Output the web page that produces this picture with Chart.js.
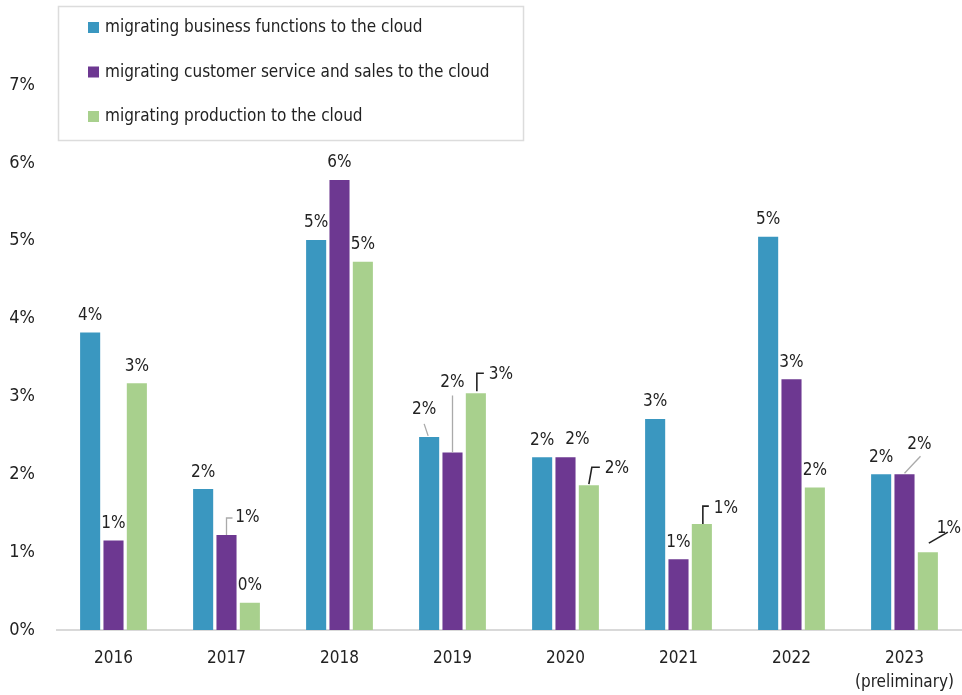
<!DOCTYPE html>
<html>
<head>
<meta charset="utf-8">
<script src="https://cdn.jsdelivr.net/npm/chart.js@4/dist/chart.umd.min.js"></script>
<style>
  html, body { margin: 0; padding: 0; background: #fff; }
  #wrap { width: 962px; height: 695px; position: relative; }
</style>
</head>
<body>
<div id="wrap"><canvas id="cloudChart"></canvas></div>
<script>
// categories + series (values in %)
const years = ['2016', '2017', '2018', '2019', '2020', '2021', '2022', ['2023', '(preliminary)']];
const businessFunctions = [3.82, 1.81, 5.01, 2.48, 2.22, 2.71, 5.05, 2.0];
const customerSales = [1.15, 1.22, 5.78, 2.28, 2.22, 0.91, 3.22, 2.0];
const production = [3.17, 0.35, 4.73, 3.04, 1.86, 1.36, 1.83, 1.0];
const seriesNames = [
    'migrating business functions to the cloud',
    'migrating customer service and sales to the cloud',
    'migrating production to the cloud'
];
const yTicks = [0, 1, 2, 3, 4, 5, 6, 7];

const FONT = '"Liberation Sans Narrow", "DejaVu Sans Condensed", "Roboto", sans-serif';
const colors = ['#3a97c0', '#6d3891', '#a8d08d'];

// label placement tweaks (dataset index, category index) -> offset + leader line
const labelTweaks = {
    '1-1': { dx: 21, dy: -17, leader: [[0, 0], [0, -17], [6, -17]], lc: '#aaa' },
    '0-3': { dx: -5, dy: -27, leader: [[-1, -1], [-5, -13]], lc: '#aaa' },
    '1-3': { dx: 0, dy: -70, leader: [[0, 0], [0, -57]], lc: '#aaa' },
    '2-3': { dx: 25, dy: -19, leader: [[1, -2], [1, -20], [8, -20]], lc: '#222' },
    '1-4': { dx: 12, dy: -18 },
    '2-4': { dx: 28, dy: -17, leader: [[0, -1], [3, -18], [11, -18]], lc: '#222' },
    '2-5': { dx: 24, dy: -16, leader: [[1, 0], [1, -18], [7, -18]], lc: '#222' },
    '1-7': { dx: 15, dy: -30, leader: [[0, -1], [16, -18]], lc: '#aaa' },
    '2-7': { dx: 21, dy: -24, leader: [[1, -9], [20, -20]], lc: '#222' }
};

// value labels above bars
const barLabels = {
    id: 'barLabels',
    afterDatasetsDraw(chart) {
        const c = chart.ctx;
        c.save();
        c.font = '17px ' + FONT;
        c.fillStyle = '#222';
        c.textAlign = 'center';
        c.textBaseline = 'middle';
        chart.data.datasets.forEach((ds, di) => {
            chart.getDatasetMeta(di).data.forEach((bar, i) => {
                const t = labelTweaks[di + '-' + i] || { dx: 0, dy: -17 };
                if (t.leader) {
                    c.beginPath();
                    c.strokeStyle = t.lc;
                    c.lineWidth = t.lc === '#222' ? 1.6 : 1.3;
                    t.leader.forEach((p, k) => {
                        const px = bar.x + p[0], py = bar.y + p[1];
                        if (k === 0) c.moveTo(px, py); else c.lineTo(px, py);
                    });
                    c.stroke();
                }
                c.fillText(Math.round(ds.data[i]) + '%', bar.x + t.dx, bar.y + t.dy);
            });
        });
        c.restore();
    }
};

// boxed legend that sits over the plot area, top left
const boxLegend = {
    id: 'boxLegend',
    afterDraw(chart) {
        const c = chart.ctx;
        c.save();
        c.fillStyle = '#fff';
        c.fillRect(58, 6, 465, 134);
        c.strokeStyle = '#dcdcdc';
        c.lineWidth = 1.5;
        c.strokeRect(58.5, 6.5, 465, 134);
        c.font = '17px ' + FONT;
        c.textBaseline = 'middle';
        c.textAlign = 'left';
        chart.data.datasets.forEach((ds, i) => {
            const y = 28 + i * 44.5;
            c.fillStyle = ds.backgroundColor;
            c.fillRect(88, y - 6, 11, 11);
            c.fillStyle = '#222';
            c.fillText(ds.label, 105, y);
        });
        c.restore();
    }
};

new Chart(document.getElementById('cloudChart'), {
    type: 'bar',
    data: {
        labels: years,
        datasets: [
            { label: seriesNames[0], data: businessFunctions, backgroundColor: colors[0] },
            { label: seriesNames[1], data: customerSales, backgroundColor: colors[1] },
            { label: seriesNames[2], data: production, backgroundColor: colors[2] }
        ]
    },
    options: {
        responsive: true,
        maintainAspectRatio: false,
        animation: false,
        datasets: {
            bar: { categoryPercentage: 0.62, barPercentage: 0.86, borderWidth: 0 }
        },
        layout: { padding: { top: 85, right: 1, left: 0, bottom: 0 } },
        scales: {
            x: {
                afterFit(axis) { axis.height = 65; axis.paddingRight = 0; axis.paddingLeft = 0; },
                grid: { display: false },
                border: { display: true, color: '#d9d9d9', width: 2 },
                ticks: { color: '#222', font: { family: FONT, size: 17, lineHeight: 1.4 }, padding: 9, maxRotation: 0 }
            },
            y: {
                min: 0, max: 7,
                afterFit(axis) { axis.width = 57; },
                afterBuildTicks(axis) { axis.ticks = yTicks.map(v => ({ value: v })); },
                grid: { display: false },
                border: { display: false },
                ticks: {
                    color: '#222', font: { family: FONT, size: 18 }, padding: 14,
                    callback: v => v + '%'
                }
            }
        },
        plugins: {
            legend: { display: false },
            tooltip: { enabled: false }
        }
    },
    plugins: [barLabels, boxLegend]
});
</script>
</body>
</html>
